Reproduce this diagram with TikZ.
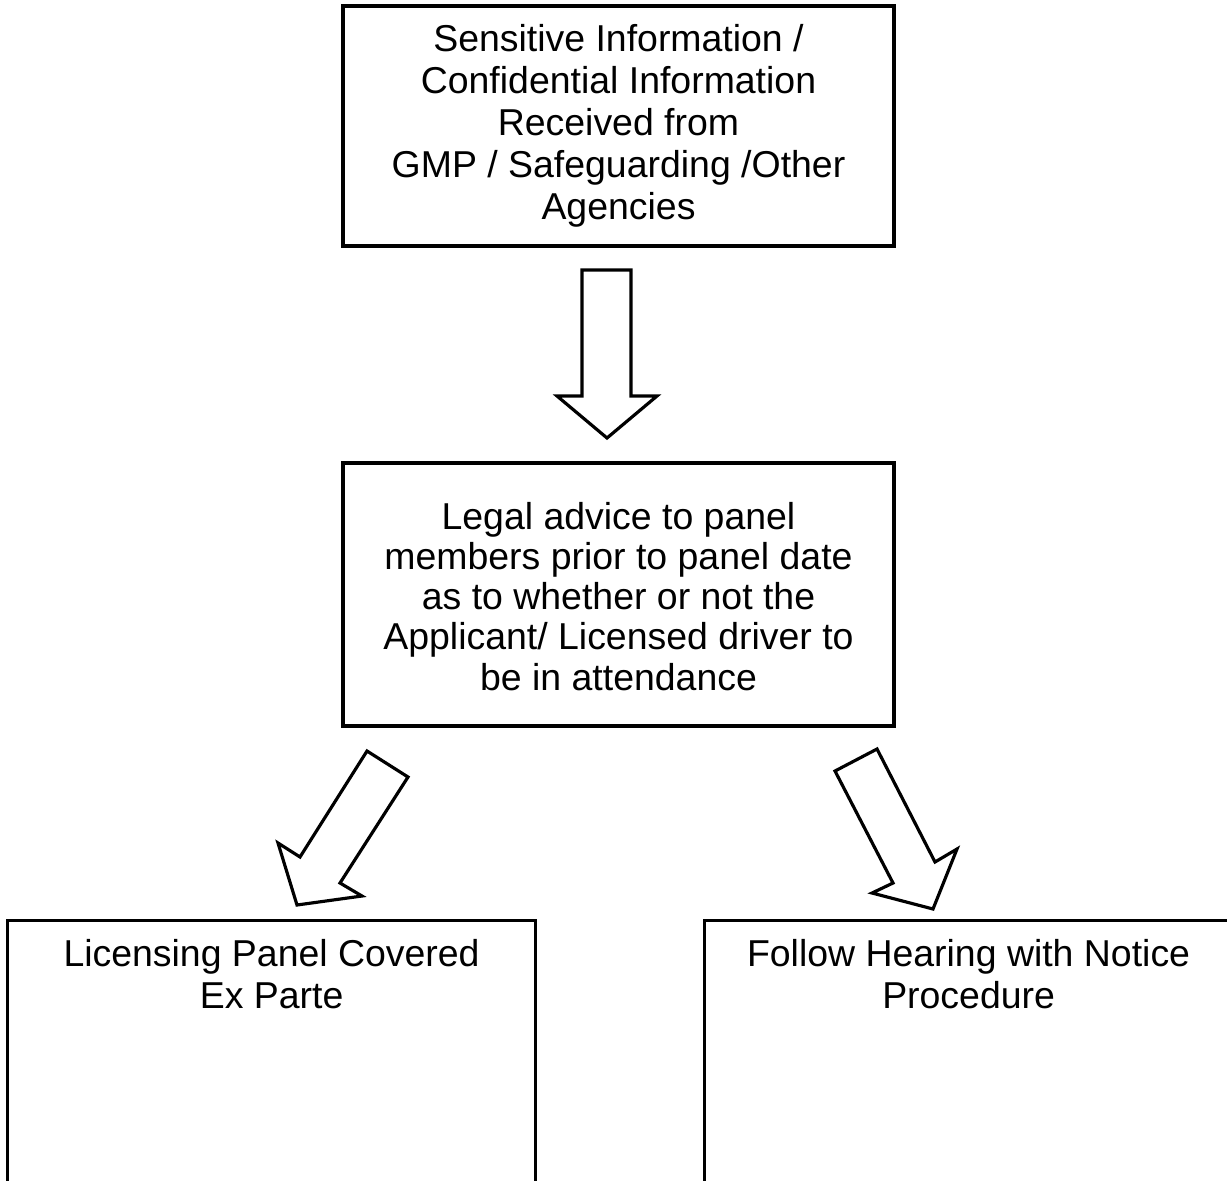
\documentclass[tikz,border=0pt]{standalone}
\usepackage{fontspec}
\setmainfont{Liberation Sans}
\usepackage{tikz}

\begin{document}
\begin{tikzpicture}[x=0.1mm,y=-0.1mm,
    every node/.style={font=\fontsize{10.65pt}{11.95pt}\selectfont},
    box/.style={draw, line width=0.9pt, inner sep=0pt, align=center},
    blockarrow/.style={draw, line width=0.9pt, line join=miter}]
    \useasboundingbox (0,0) rectangle (1227,1180);
    \clip (0,0) rectangle (1227,1180);

    % boxes
    \node [box, minimum width=55.1mm, minimum height=24mm] (source) at (618.5,126)
      {Sensitive Information /\\Confidential Information\\Received from\\GMP / Safeguarding /Other\\Agencies};
    \node [box, minimum width=55.1mm, minimum height=26.3mm] (advice) at (618.5,594.5) {};
    \node [align=center, inner sep=0pt, font=\fontsize{10.65pt}{11.4pt}\selectfont] (advice text)
      at ([yshift=-0.2mm]advice.center)
      {Legal advice to panel\\members prior to panel date\\as to whether or not the\\Applicant/ Licensed driver to\\be in attendance};
    \node [box, anchor=north west, minimum width=52.8mm, minimum height=30mm] (exparte) at (6,919) {};
    \node [box, anchor=north west, minimum width=52.8mm, minimum height=30mm] (notice) at (703,919) {};
    \node [anchor=north, align=center, inner sep=0pt] (exparte text) at ([yshift=-2mm]exparte.north)
      {Licensing Panel Covered\\Ex Parte};
    \node [anchor=north, align=center, inner sep=0pt] (notice text) at ([yshift=-2mm]notice.north)
      {Follow Hearing with Notice\\Procedure};

    % block arrows
    \draw [blockarrow] (582,270) -- (631,270) -- (631,396) -- (657,396) -- (607,438)
      -- (557,396) -- (582,396) -- cycle;
    \draw [blockarrow] (367,751) -- (408,777) -- (340,883) -- (362,896) -- (297,905)
      -- (278,843) -- (300,857) -- cycle;
    \draw [blockarrow] (835,771) -- (877,749) -- (935,862) -- (957,849) -- (933,909)
      -- (872,893) -- (893,883) -- cycle;
\end{tikzpicture}
\end{document}
